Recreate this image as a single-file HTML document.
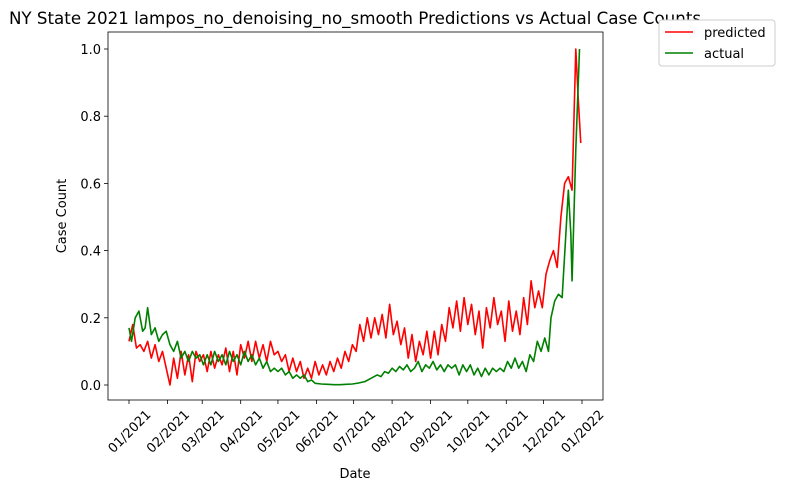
<!DOCTYPE html>
<html><head><meta charset="utf-8"><style>
body{margin:0;background:#fff;}
svg text{font-family:"DejaVu Sans","Liberation Sans",sans-serif;fill:#000;}
</style></head><body>
<svg id="c" width="785" height="491" xmlns="http://www.w3.org/2000/svg" style="position:absolute;left:0;top:0"></svg>
<script>
const xTickLabels=["01/2021","02/2021","03/2021","04/2021","05/2021","06/2021","07/2021","08/2021","09/2021","10/2021","11/2021","12/2021","01/2022"];
const xTickDays=[0,31,59,90,120,151,181,212,243,273,304,334,365];
const yTicks=[0,0.2,0.4,0.6,0.8,1.0];
const predDays=[0,3,6,9,12,15,18,21,24,27,30,33,36,39,42,45,48,51,54,57,60,63,66,69,72,75,78,81,84,87,90,93,96,99,102,105,108,111,114,117,120,123,126,129,132,135,138,141,144,147,150,153,156,159,162,165,168,171,174,177,180,183,186,189,192,195,198,201,204,207,210,213,216,219,222,225,228,231,234,237,240,243,246,249,252,255,258,261,264,267,270,273,276,279,282,285,288,291,294,297,300,303,306,309,312,315,318,321,324,327,330,333,336,339,342,345,348,351,354,357,360,362,364];
const predVals=[0.13,0.18,0.11,0.12,0.10,0.13,0.08,0.12,0.07,0.10,0.05,0.0,0.08,0.02,0.10,0.03,0.09,0.01,0.10,0.07,0.09,0.04,0.10,0.05,0.09,0.06,0.11,0.04,0.10,0.03,0.12,0.08,0.13,0.07,0.13,0.08,0.12,0.07,0.13,0.09,0.10,0.07,0.09,0.04,0.08,0.04,0.07,0.02,0.05,0.02,0.07,0.03,0.06,0.03,0.07,0.04,0.08,0.05,0.10,0.07,0.12,0.10,0.18,0.13,0.20,0.14,0.20,0.15,0.21,0.14,0.24,0.15,0.19,0.12,0.17,0.08,0.15,0.07,0.13,0.09,0.16,0.08,0.16,0.09,0.18,0.13,0.23,0.17,0.25,0.16,0.26,0.18,0.24,0.15,0.22,0.11,0.23,0.17,0.26,0.18,0.22,0.13,0.25,0.16,0.22,0.15,0.26,0.18,0.31,0.23,0.28,0.23,0.33,0.37,0.40,0.35,0.50,0.60,0.62,0.58,1.0,0.85,0.72];
const actDays=[0,2,5,8,11,13,15,18,21,24,27,30,33,36,39,42,45,48,51,54,57,60,63,66,69,72,75,78,81,84,87,90,93,96,99,102,105,108,111,114,117,120,123,126,129,132,135,138,141,144,147,150,155,160,165,170,175,180,185,190,195,200,203,206,209,212,215,218,221,224,227,230,233,236,239,242,245,248,251,254,257,260,263,266,269,272,275,278,281,284,287,290,293,296,299,302,305,308,311,314,317,320,323,326,329,332,335,338,340,343,346,349,352,354,356,357,360,363];
const actVals=[0.17,0.13,0.20,0.22,0.16,0.17,0.23,0.15,0.17,0.13,0.15,0.16,0.12,0.10,0.13,0.08,0.10,0.07,0.10,0.08,0.09,0.06,0.09,0.06,0.10,0.07,0.09,0.06,0.10,0.07,0.09,0.06,0.10,0.07,0.09,0.06,0.08,0.05,0.07,0.04,0.05,0.04,0.05,0.03,0.04,0.02,0.03,0.02,0.03,0.01,0.015,0.005,0.003,0.002,0.001,0.001,0.002,0.003,0.006,0.01,0.02,0.03,0.025,0.04,0.035,0.05,0.04,0.055,0.045,0.06,0.04,0.05,0.07,0.04,0.06,0.05,0.07,0.045,0.06,0.04,0.06,0.05,0.06,0.03,0.06,0.04,0.06,0.03,0.05,0.025,0.05,0.03,0.05,0.04,0.05,0.04,0.07,0.05,0.08,0.05,0.07,0.04,0.09,0.07,0.13,0.10,0.14,0.10,0.20,0.25,0.27,0.26,0.45,0.58,0.45,0.31,0.70,1.0];

const svg=document.getElementById('c');
const NS='http://www.w3.org/2000/svg';
const X0=108,X1=603,Y0=32,Y1=400;
const xs=d=>129+d*(453/365);
const ys=v=>385-v*336;
function mk(tag,attrs,parent){const e=document.createElementNS(NS,tag);for(const k in attrs)e.setAttribute(k,attrs[k]);(parent||svg).appendChild(e);return e;}

yTicks.forEach(v=>{
  const t=mk('line',{x1:X0-4,x2:X0,y1:ys(v),y2:ys(v),stroke:'#000','stroke-width':0.8});
  
  
  const l=mk('text',{x:X0-7,y:ys(v)+5,'text-anchor':'end','font-size':13});
  l.textContent=v.toFixed(1);
  
  
});
xTickDays.forEach((d,i)=>{
  const x=xs(d);
  const t=mk('line',{x1:x,x2:x,y1:Y1,y2:Y1+4,stroke:'#000','stroke-width':0.8});
  
  
  const cy=Y1+31;
  const l=mk('text',{x:x,y:cy+5,'text-anchor':'middle','font-size':13,transform:`rotate(-45 ${x} ${cy})`});
  l.textContent=xTickLabels[i];
  
  
});

function line(days,vals,color,name){
  const p=mk('polyline',{points:days.map((d,i)=>xs(d)+','+ys(vals[i])).join(' '),fill:'none',stroke:color,'stroke-width':1.6,'stroke-linejoin':'round'});
  
  
}
line(predDays,predVals,'#ff0000','predicted-line');
line(actDays,actVals,'#008000','actual-line');

const f=mk('rect',{x:X0,y:Y0,width:X1-X0,height:Y1-Y0,fill:'none',stroke:'#000','stroke-width':0.8});


</script>
<div style="position:absolute;left:0;top:0;width:785px;height:491px;pointer-events:none">
<svg width="785" height="491" xmlns="http://www.w3.org/2000/svg" style="font-family:'DejaVu Sans','Liberation Sans',sans-serif">
<text x="355" y="24" text-anchor="middle" font-size="16.7">NY State 2021 lampos_no_denoising_no_smooth Predictions vs Actual Case Counts</text>
<text x="355" y="478" text-anchor="middle" font-size="13">Date</text>
<text x="66" y="216" text-anchor="middle" font-size="13" transform="rotate(-90 66 216)">Case Count</text>
<g>
<rect x="659" y="20" width="116" height="46" rx="3" fill="#fff" stroke="#ccc"/>
<line x1="665" x2="693" y1="32" y2="32" stroke="#ff0000" stroke-width="1.6"/>
<text x="704" y="37" font-size="13">predicted</text>
<line x1="665" x2="693" y1="53" y2="53" stroke="#008000" stroke-width="1.6"/>
<text x="704" y="58" font-size="13">actual</text>
</g>
</svg></div>
</body></html>
